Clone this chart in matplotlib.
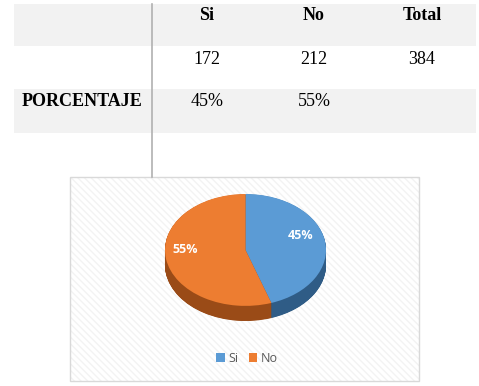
import matplotlib
matplotlib.use("Agg")
import matplotlib.pyplot as plt
from matplotlib.patches import Rectangle
import numpy as np

# ---- data ----
categories = ["Si", "No"]
counts = [172, 212]
total = 384
percent_labels = ["45%", "55%"]
row_label = "PORCENTAJE"
header_total = "Total"

colors_top = ["#5b9bd5", "#ed7d31"]
colors_side = ["#2f5c86", "#9a4b17"]

W, H = 479, 386
fig = plt.figure(figsize=(W / 100, H / 100), dpi=100)
fig.patch.set_facecolor("white")

# ---- table (figure-pixel axes) ----
tab = fig.add_axes([0, 0, 1, 1])
tab.set_xlim(0, W)
tab.set_ylim(H, 0)
tab.axis("off")

tab.add_patch(Rectangle((14, 4), 462, 42, facecolor="#f2f2f2", edgecolor="none"))
tab.add_patch(Rectangle((14, 89), 462, 44, facecolor="#f2f2f2", edgecolor="none"))
tab.plot([152, 152], [4, 177], color="#b0b0b0", lw=1.2)

serif = "Liberation Serif"
fs = 13
col_x = [207, 314, 422]
headers = categories + [header_total]
for x, t in zip(col_x, headers):
    tab.text(x, 16, t, ha="center", va="center", fontsize=fs,
             fontweight="bold", family=serif)
for x, v in zip(col_x, counts + [total]):
    tab.text(x, 59, str(v), ha="center", va="center", fontsize=fs, family=serif)
tab.text(82, 101, row_label, ha="center", va="center", fontsize=fs,
         fontweight="bold", family=serif)
for x, t in zip(col_x[:2], percent_labels):
    tab.text(x, 101, t, ha="center", va="center", fontsize=fs, family=serif)

# ---- chart area ----
tab.add_patch(Rectangle((70, 177), 349, 204, facecolor="white",
                        edgecolor="#f3f3f3", hatch="\\\\\\\\\\", lw=0))
tab.add_patch(Rectangle((70, 177), 349, 204, facecolor="none",
                        edgecolor="#d9d9d9", lw=1))

# ---- 3D-ish pie ----
depth = 0.27
pie_ax = fig.add_axes([165 / W, (H - 321) / H, 161 / W, 127 / H])

steps = 40
for k in range(steps, 0, -1):
    off = depth * k / steps
    pie_ax.pie(counts, colors=colors_side, startangle=90, counterclock=False,
               center=(0, -off), radius=1, frame=True,
               wedgeprops=dict(linewidth=0))
pie_ax.pie(counts, colors=colors_top, startangle=90, counterclock=False,
           center=(0, 0), radius=1, frame=True,
           wedgeprops=dict(linewidth=0))
pie_ax.set_aspect("auto")
pie_ax.set_xlim(-1, 1)
pie_ax.set_ylim(-1 - depth, 1)
pie_ax.axis("off")

pie_ax.text(0.68, 0.25, percent_labels[0], ha="center", va="center",
            color="white", fontsize=9, fontweight="bold", family="Open Sans")
pie_ax.text(-0.75, 0.0, percent_labels[1], ha="center", va="center",
            color="white", fontsize=9, fontweight="bold", family="Open Sans")

# ---- legend ----
handles = [Rectangle((0, 0), 1, 1, facecolor=c, edgecolor="none") for c in colors_top]
leg = fig.legend(handles, categories, loc="center", bbox_to_anchor=(247 / W, 1 - 358 / H),
                 ncol=2, frameon=False, handlelength=0.7,
                 handleheight=0.7, handletextpad=0.3, columnspacing=0.8,
                 prop={"family": "Open Sans", "size": 9})
for t in leg.get_texts():
    t.set_color("#595959")

fig.savefig("out.png", dpi=100)
